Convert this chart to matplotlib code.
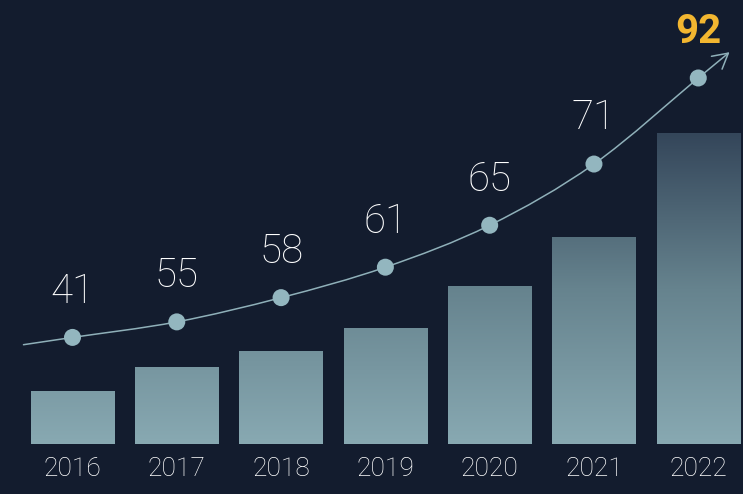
import numpy as np
import matplotlib
matplotlib.use("Agg")
import matplotlib.pyplot as plt
from matplotlib.path import Path
from matplotlib.patches import FancyArrowPatch
from matplotlib.colors import LinearSegmentedColormap

# data
years = ["2016", "2017", "2018", "2019", "2020", "2021", "2022"]
bar_values = [17, 24.7, 29.8, 37.2, 50.8, 66.5, 100]
curve_values = [34.2, 39.2, 47.0, 56.8, 70.3, 90.0, 117.7]
labels = [41, 55, 58, 61, 65, 71, 92]

BG = "#131c2e"
DOT = "#93b6bf"
LINE = "#8fb0b9"
YELLOW = "#f2b630"

plt.rcParams["font.family"] = ["Roboto", "DejaVu Sans"]

fig = plt.figure(figsize=(7.43, 4.94), dpi=100, facecolor=BG)
ax = fig.add_axes([0, 0, 1, 1])
ax.set_facecolor(BG)
ax.axis("off")

x = np.arange(len(years))

# bars with one shared vertical gradient
cmap = LinearSegmentedColormap.from_list("g", ["#88a9b2", "#66838e", "#34465a"])
grad = np.linspace(0, 1, 256).reshape(-1, 1)
bars = ax.bar(x, bar_values, width=0.8, color="none", edgecolor="none")
for b in bars:
    im = ax.imshow(grad, cmap=cmap, origin="lower", aspect="auto",
                   extent=[b.get_x(), b.get_x() + b.get_width(), 0, max(bar_values)],
                   zorder=1)
    im.set_clip_path(b)
ax.set_xlim(-0.695, 6.429)
ax.set_ylim(-16.2, 142.8)

# smooth curve through the dots, extended a bit on both ends
pts = np.column_stack([x, curve_values]).astype(float)
start = pts[0] - 0.47 * (pts[1] - pts[0])
end = pts[-1] + 0.3 * (pts[-1] - pts[-2])
allp = np.vstack([start, pts, end])
ext = np.vstack([2 * allp[0] - allp[1], allp, 2 * allp[-1] - allp[-2]])
verts = [allp[0]]
codes = [Path.MOVETO]
for i in range(1, len(ext) - 2):
    p0, p1, p2, p3 = ext[i - 1], ext[i], ext[i + 1], ext[i + 2]
    c1 = p1 + (p2 - p0) / 6
    c2 = p2 - (p3 - p1) / 6
    verts += [c1, c2, p2]
    codes += [Path.CURVE4] * 3
curve = FancyArrowPatch(path=Path(verts, codes), arrowstyle="->,head_length=0.9,head_width=0.5",
                        mutation_scale=12, color=LINE, lw=1.1, shrinkA=0, shrinkB=0, zorder=3)
ax.add_patch(curve)

ax.scatter(x, curve_values, s=150, color=DOT, zorder=4, edgecolor="none")

for i, v in enumerate(labels):
    last = i == len(labels) - 1
    ax.annotate(str(v), (x[i], curve_values[i]), xytext=(0, 33), textcoords="offset points",
                ha="center", va="center", fontsize=29,
                color=YELLOW if last else "white",
                fontweight="bold" if last else "light", zorder=5)

for i, yr in enumerate(years):
    ax.text(x[i], -8.1, yr, ha="center", va="center", fontsize=19, color="white",
            fontweight="light")

fig.savefig("out.png", dpi=100, facecolor=BG)
